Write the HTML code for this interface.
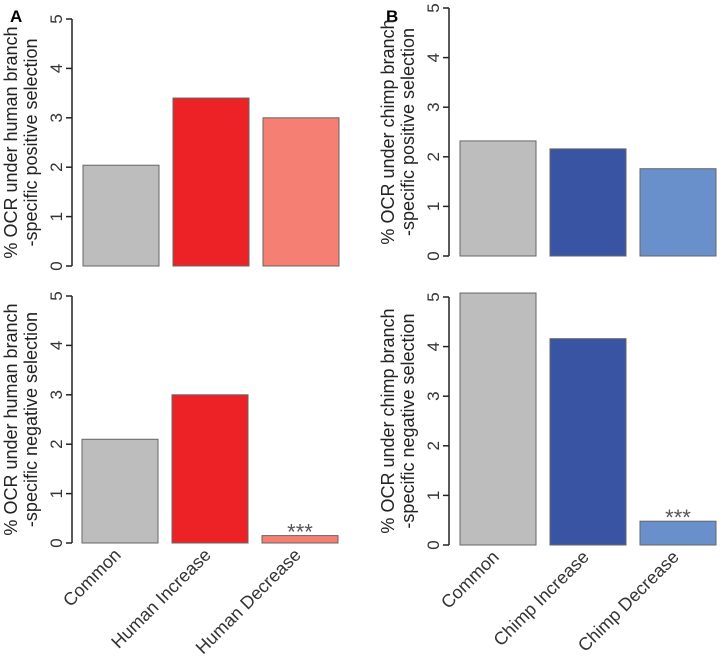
<!DOCTYPE html>
<html><head><meta charset="utf-8"><style>
body{margin:0;background:#fff;}
svg{display:block;font-family:"Liberation Sans",Arial,sans-serif;}
</style></head><body>
<svg id="chart" width="720" height="656" viewBox="0 0 720 656">
<text x="10" y="22" font-size="17" font-weight="bold">A</text>
<text x="386" y="22" font-size="17" font-weight="bold">B</text>
</svg>
<script>
const categoriesA = ["Common","Human Increase","Human Decrease"];
const categoriesB = ["Common","Chimp Increase","Chimp Decrease"];
const valuesAPos = [2.04, 3.4, 3.0];
const valuesANeg = [2.1, 3.0, 0.15];
const valuesBPos = [2.32, 2.16, 1.76];
const valuesBNeg = [5.08, 4.16, 0.48];
const tickLabels = [0,1,2,3,4,5];
const colorsA = ["#bdbdbd","#ec2227","#f47f72"];
const colorsB = ["#bdbdbd","#3a54a4","#6a90cc"];

const NS="http://www.w3.org/2000/svg";
const svg=document.getElementById('chart');
function mk(tag,attrs,parent){const e=document.createElementNS(NS,tag);for(const k in attrs)e.setAttribute(k,attrs[k]);(parent||svg).appendChild(e);return e;}

function panel(id,ax,y0,y5,barX,vals,colors,title1,title2,cats,stars){
  const g=mk('g',{});
  
  
  const yS=v=>y0+(y5-y0)*v/5;
  const ax_=mk('line',{x1:ax,x2:ax,y1:yS(0),y2:yS(5),stroke:'#222','stroke-width':1.5},g);
  
  
  tickLabels.forEach(t=>{
    const y=yS(t);
    const tk=mk('line',{x1:ax-6,x2:ax,y1:y,y2:y,stroke:'#222','stroke-width':1.5},g);
    
    
    const tl=mk('text',{x:ax-10,y:y,'font-size':17,fill:'#333','text-anchor':'middle',transform:`rotate(-90 ${ax-10} ${y})`},g);
    tl.textContent=t;
    
    
  });
  const cy=(yS(0)+yS(5))/2;
  const t1=mk('text',{x:ax-55,y:cy,'font-size':18,fill:'#222','text-anchor':'middle',transform:`rotate(-90 ${ax-55} ${cy})`},g);
  t1.textContent=title1;
  
  
  const t2=mk('text',{x:ax-35,y:cy,'font-size':18,fill:'#222','text-anchor':'middle',transform:`rotate(-90 ${ax-35} ${cy})`},g);
  t2.textContent=title2;
  
  
  vals.forEach((v,i)=>{
    const x=barX+i*90;
    const r=mk('rect',{x:x,y:yS(v),width:76,height:yS(0)-yS(v),fill:colors[i],stroke:'#666','stroke-width':1},g);
    
    
    if(stars&&i===2){
      const s=mk('text',{x:x+38,y:yS(v)+4,'font-size':22,fill:'#555','text-anchor':'middle'},g);
      s.textContent='***';
      
      
    }
    if(cats.show){
      const lx=x+40, ly=yS(0)+13;
      const l=mk('text',{x:lx,y:ly,'font-size':18,fill:'#333','text-anchor':'end',transform:`rotate(-45 ${lx} ${ly})`},g);
      l.textContent=cats[i];
      
      
    }
  });
}
const labA=categoriesA.slice(); labA.show=true;
const labB=categoriesB.slice(); labB.show=true;
panel('panel-a-positive',72,266,19,83,valuesAPos,colorsA,'% OCR under human branch','-specific positive selection',categoriesA,false);
panel('panel-a-negative',72,543,296,82,valuesANeg,colorsA,'% OCR under human branch','-specific negative selection',labA,true);
panel('panel-b-positive',449,256,8,460,valuesBPos,colorsB,'% OCR under chimp branch','-specific positive selection',categoriesB,false);
panel('panel-b-negative',449,545,297,460,valuesBNeg,colorsB,'% OCR under chimp branch','-specific negative selection',labB,true);
</script>
</body></html>
